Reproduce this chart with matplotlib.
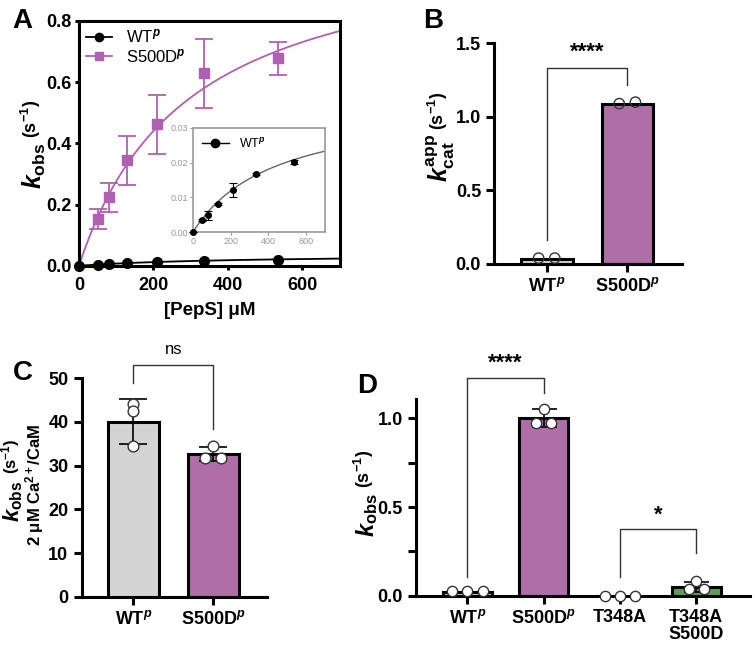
import numpy as np
import matplotlib
matplotlib.use("Agg")
import matplotlib.pyplot as plt
from matplotlib.ticker import MultipleLocator
from matplotlib.lines import Line2D

plt.rcParams['font.family'] = ['Liberation Sans', 'DejaVu Sans']
plt.rcParams['mathtext.fontset'] = 'custom'
plt.rcParams['mathtext.rm'] = 'Liberation Sans:bold'
plt.rcParams['mathtext.it'] = 'Liberation Sans:bold:italic'
plt.rcParams['mathtext.bf'] = 'Liberation Sans:bold'

# ---------------- Data ----------------
# Panel A
pep_conc = [0, 50, 80, 130, 210, 335, 535]
wt_kobs = [0.0, 0.0035, 0.0048, 0.008, 0.0122, 0.0168, 0.0203]
wt_err = [0.0, 0.0003, 0.0013, 0.0003, 0.002, 0.0003, 0.0006]
s500d_conc = [50, 80, 130, 210, 335, 535]
s500d_kobs = [0.152, 0.223, 0.345, 0.462, 0.628, 0.677]
s500d_err = [0.033, 0.047, 0.08, 0.097, 0.114, 0.055]
wt_vmax, wt_km = 0.038, 440
s500d_vmax, s500d_km = 1.09, 295

# Panel B
b_labels = ["WT$^{p}$", "S500D$^{p}$"]
b_means = [0.035, 1.085]
b_points = [[0.04, 0.04], [1.09, 1.10]]

# Panel C
c_labels = ["WT$^{p}$", "S500D$^{p}$"]
c_means = [40.1, 32.6]
c_sd = [5.2, 1.6]
c_points = [[44.1, 42.4, 34.4], [34.5, 31.8, 31.8]]

# Panel D
d_labels = ["WT$^{p}$", "S500D$^{p}$", "T348A", "T348A\nS500D"]
d_means = [0.022, 1.0, 0.0, 0.048]
d_sd = [0.0, 0.05, 0.0, 0.027]
d_points = [[0.025, 0.025, 0.025], [1.055, 0.972, 0.975], [0.0, 0.0, 0.0], [0.085, 0.036, 0.036]]

PURPLE_LINE = "#b060b0"
PURPLE_BAR = "#b06ea8"
GREY_BAR = "#d3d3d3"
GREEN_BAR = "#5f9e5a"

W, H = 755, 651
fig = plt.figure(figsize=(W / 100, H / 100), dpi=100)

SP_W = 2.2
TICK_FS = 13


def style_axes(ax, full_box=False):
    for s in ['left', 'bottom', 'top', 'right']:
        ax.spines[s].set_linewidth(SP_W)
    if not full_box:
        ax.spines['top'].set_visible(False)
        ax.spines['right'].set_visible(False)
    ax.tick_params(width=SP_W, length=6, labelsize=TICK_FS, direction='out')
    for lab in ax.get_xticklabels() + ax.get_yticklabels():
        lab.set_fontweight('bold')


def bracket(ax, x1, x2, y1, ytop, y2, text, ty, fs=16, weight='bold'):
    ax.plot([x1, x1, x2, x2], [y1, ytop, ytop, y2], color='#333333', lw=1.0, clip_on=False)
    ax.text((x1 + x2) / 2, ty, text, ha='center', va='center', fontsize=fs,
            fontweight=weight, clip_on=False)


def vtext(s, x, y, fs, va='center', **kw):
    fig.text(x / W, 1 - y / H, s, rotation=90, ha='center', va=va, fontsize=fs, **kw)


# ---------------- Panel A ----------------
axA = fig.add_axes([0.1046, 0.5918, 0.3454, 0.3762])
xs = np.linspace(0, 700, 300)
axA.plot(xs, s500d_vmax * xs / (s500d_km + xs), color=PURPLE_LINE, lw=1.3)
axA.plot(xs, wt_vmax * xs / (wt_km + xs), color='black', lw=1.3)
axA.errorbar(s500d_conc, s500d_kobs, yerr=s500d_err, fmt='s', color=PURPLE_LINE,
             ms=7.5, capsize=6.5, elinewidth=1.3, capthick=1.3, zorder=5, clip_on=False)
axA.errorbar(pep_conc, wt_kobs, fmt='o', color='black', ms=7, zorder=6, clip_on=False)
axA.set_xlim(0, 700)
axA.set_ylim(0, 0.8)
axA.set_xticks([0, 200, 400, 600])
axA.set_yticks([0.0, 0.2, 0.4, 0.6, 0.8])
axA.set_yticklabels(["0.0", "0.2", "0.4", "0.6", "0.8"])
style_axes(axA, full_box=True)
axA.tick_params(length=3, pad=2.5)
axA.tick_params(axis='x', pad=5)
axA.set_xlabel("[PepS] μM", fontsize=13.5, fontweight='bold', labelpad=6)
h1 = Line2D([], [], color='black', marker='o', ms=6, lw=1.3)
h2 = Line2D([], [], color=PURPLE_LINE, marker='s', ms=6, lw=1.3)
axA.legend([h1, h2], ["WT$^{p}$", "S500D$^{p}$"], loc='upper left',
           frameon=False, fontsize=12, handlelength=1.6, borderaxespad=0.0,
           handletextpad=0.8, labelspacing=0.1, bbox_to_anchor=(0.0, 1.0))
vtext("$k_{\\mathrm{obs}}$", 34, 143, 18, va='top')
vtext("(s$^{-1}$)", 31, 138, 13, va='bottom', fontweight='bold')

# inset
axI = fig.add_axes([0.2556, 0.6436, 0.1749, 0.1598])
axI.plot(xs, wt_vmax * xs / (wt_km + xs), color='#666666', lw=1.0)
axI.errorbar(pep_conc, wt_kobs, yerr=wt_err, fmt='o', color='black', ms=4,
             capsize=3, elinewidth=0.8, capthick=0.8, clip_on=False, zorder=5)
axI.set_xlim(0, 700)
axI.set_ylim(0, 0.03)
axI.set_xticks([0, 200, 400, 600])
axI.set_yticks([0.0, 0.01, 0.02, 0.03])
axI.set_yticklabels(["0.00", "0.01", "0.02", "0.03"])
for s in axI.spines.values():
    s.set_color('#999999')
    s.set_linewidth(1.2)
axI.tick_params(labelsize=6.5, colors='#999999', length=2, width=0.8, pad=1.5)
hI = Line2D([], [], color='black', marker='o', ms=6, lw=1.0)
axI.legend([hI], ["WT$^{p}$"], loc='upper left', frameon=False, fontsize=9,
           handlelength=2.2, borderaxespad=0.3)

# ---------------- Panel B ----------------
axB = fig.add_axes([0.6547, 0.5945, 0.2483, 0.339])
bx = np.arange(len(b_means))
axB.bar(bx, b_means, width=0.64, color=[GREY_BAR, PURPLE_BAR], edgecolor='black', linewidth=2.2, zorder=2)
offs2 = [-0.1, 0.1]
for i, pts in enumerate(b_points):
    axB.scatter([i + o for o in offs2], pts, s=55, facecolor='none', edgecolor='#333333',
                linewidth=1.0, zorder=4, clip_on=False)
axB.set_xlim(-0.65, 1.675)
axB.set_ylim(0, 1.5)
axB.set_yticks([0.0, 0.5, 1.0, 1.5])
axB.set_yticklabels(["0.0", "0.5", "1.0", "1.5"])
axB.set_xticks(bx)
axB.set_xticklabels(b_labels)
style_axes(axB)
vtext("$k^{\\mathrm{app}}_{\\mathrm{cat}}$", 441, 134, 18, va='top')
vtext("(s$^{-1}$)", 438, 130, 13, va='bottom', fontweight='bold')
bracket(axB, 0, 1, 0.163, 1.33, 1.217, "****", 1.44, fs=16)

# ---------------- Panel C ----------------
axC = fig.add_axes([0.1082, 0.0834, 0.245, 0.3355])
cx = np.arange(len(c_means))
axC.bar(cx, c_means, width=0.64, color=[GREY_BAR, PURPLE_BAR], edgecolor='black', linewidth=2.2, zorder=2)
axC.errorbar(cx, c_means, yerr=c_sd, fmt='none', ecolor='black', elinewidth=1.2,
             capsize=10, capthick=1.2, zorder=3)
offsC = [[0, 0, 0], [0, -0.1, 0.1]]
for i, pts in enumerate(c_points):
    axC.scatter([i + o for o in offsC[i]], pts, s=60, facecolor='white', edgecolor='#333333',
                linewidth=1.0, zorder=4)
axC.set_xlim(-0.645, 1.667)
axC.set_ylim(0, 50)
axC.set_yticks([0, 10, 20, 30, 40, 50])
axC.set_xticks(cx)
axC.set_xticklabels(c_labels)
style_axes(axC)
vtext("$k_{\\mathrm{obs}}$", 13, 481, 16, va='top')
vtext("(s$^{-1}$)", 11, 474, 12, va='bottom', fontweight='bold')
vtext("2 μM Ca$^{2+}$/CaM", 35, 485, 12, fontweight='bold')
bracket(axC, 0, 1, 49.0, 53.05, 38.4, "ns", 56.7, fs=12, weight='normal')

# ---------------- Panel D ----------------
axD = fig.add_axes([0.551, 0.0849, 0.4424, 0.3017])
dx = np.arange(len(d_means))
axD.bar(dx, d_means, width=0.646, color=[GREY_BAR, PURPLE_BAR, GREY_BAR, GREEN_BAR],
        edgecolor='black', linewidth=2.2, zorder=2)
axD.errorbar(dx, d_means, yerr=d_sd, fmt='none', ecolor='black', elinewidth=1.2,
             capsize=9, capthick=1.2, zorder=3)
offsD = [[-0.2, 0, 0.2], [0, -0.1, 0.1], [-0.2, 0, 0.2], [0, -0.1, 0.1]]
for i, pts in enumerate(d_points):
    axD.scatter([i + o for o in offsD[i]], pts, s=55, facecolor='white', edgecolor='#333333',
                linewidth=1.0, zorder=4, clip_on=False)
axD.set_xlim(-0.672, 3.705)
axD.set_ylim(0, 1.107)
axD.set_yticks([0.0, 0.5, 1.0])
axD.set_yticklabels(["0.0", "0.5", "1.0"])
axD.yaxis.set_minor_locator(MultipleLocator(0.25))
axD.set_xticks(dx)
axD.set_xticklabels(d_labels, linespacing=1.0)
style_axes(axD)
axD.tick_params(axis='y', which='minor', width=SP_W, length=6)
vtext("$k_{\\mathrm{obs}}$", 367, 493, 17, va='top')
vtext("(s$^{-1}$)", 364, 488, 13, va='bottom', fontweight='bold')
bracket(axD, 0, 1, 0.107, 1.226, 1.145, "****", 1.31, fs=16)
bracket(axD, 2, 3, 0.107, 0.376, 0.239, "*", 0.455, fs=16)

# panel letters
for lab, x, y in [("A", 12, 8), ("B", 423, 8), ("C", 13, 360), ("D", 357, 373)]:
    fig.text(x / W, 1 - y / H, lab, fontsize=20, fontweight='bold', ha='left', va='top')

fig.savefig("out.png", dpi=100)
